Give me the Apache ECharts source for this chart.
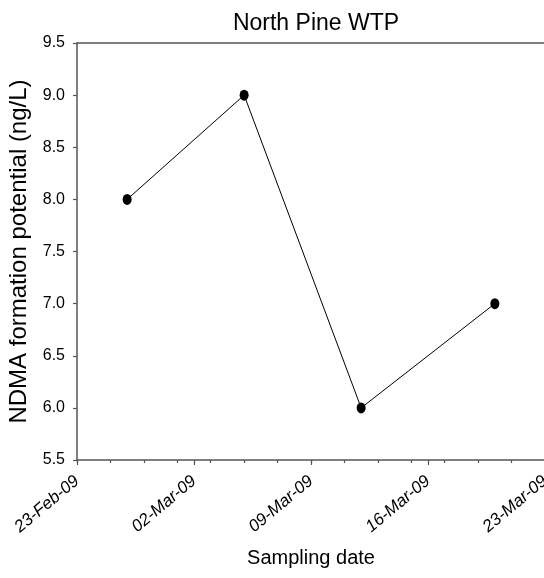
<!DOCTYPE html>
<html>
<head>
<meta charset="utf-8">
<script src="https://cdn.jsdelivr.net/npm/echarts@6/dist/echarts.min.js"></script>
<style>
html,body{margin:0;padding:0;background:#fff;}
#chart{width:544px;height:578px;}
</style>
</head>
<body>
<div id="chart"></div>
<script>
const titleText = 'North Pine WTP';
const xName = 'Sampling date';
const yName = 'NDMA formation potential (ng/L)';
const originDate = '2009-02-23';
const sampleDates = ['2009-02-26', '2009-03-05', '2009-03-12', '2009-03-20'];
const ndmaValues = [8.0, 9.0, 6.0, 7.0];
const xTickLabels = ['23-Feb-09', '02-Mar-09', '09-Mar-09', '16-Mar-09', '23-Mar-09'];

const DAY = 86400000;
const originMs = Date.parse(originDate);
const seriesData = sampleDates.map((d, i) => [(Date.parse(d) - originMs) / DAY, ndmaValues[i]]);
const spanDays = (xTickLabels.length - 1) * 7;

const axisColor = '#555';
const font = 'Liberation Sans, Arial, sans-serif';

const chart = echarts.init(document.getElementById('chart'), null, {renderer: 'canvas'});
chart.setOption({
  animation: false,
  backgroundColor: '#fff',
  title: {
    text: titleText,
    left: 311,
    textAlign: 'center',
    top: 7,
    textStyle: {fontFamily: font, fontSize: 23, fontWeight: 'normal', color: '#000'}
  },
  grid: {left: 77, right: -1, top: 43, bottom: 118, containLabel: false, outerBoundsMode: 'none'},
  xAxis: [
    {
      type: 'value', min: 0, max: spanDays, interval: 7, position: 'bottom',
      axisLine: {show: true, lineStyle: {color: axisColor, width: 1.5}},
      axisTick: {show: true, length: 5, lineStyle: {color: axisColor, width: 1.2}},
      axisLabel: {
        show: true, rotate: 40, margin: 19, fontFamily: font, fontSize: 17,
        fontStyle: 'italic', color: '#000',
        showMinLabel: true, showMaxLabel: true, hideOverlap: false,
        formatter: v => xTickLabels[Math.round(v / 7)]
      },
      splitLine: {show: false},
      name: xName, nameLocation: 'middle', nameGap: 88,
      nameTextStyle: {fontFamily: font, fontSize: 20, color: '#000'}
    },
    {
      type: 'value', min: 0, max: spanDays, interval: 2, position: 'bottom',
      axisLine: {show: false},
      axisTick: {show: true, length: 3, lineStyle: {color: axisColor, width: 1.2}},
      axisLabel: {show: false},
      splitLine: {show: false}
    },
    {
      type: 'value', min: 0, max: spanDays, interval: 7, position: 'top',
      axisLine: {show: true, lineStyle: {color: axisColor, width: 1.5}},
      axisTick: {show: false},
      axisLabel: {show: false},
      splitLine: {show: false}
    }
  ],
  yAxis: {
    type: 'value', min: 5.5, max: 9.5, interval: 0.5,
    axisLine: {show: true, lineStyle: {color: axisColor, width: 1.5}},
    axisTick: {show: true, length: 4, lineStyle: {color: axisColor, width: 1.2}},
    axisLabel: {
      margin: 12, fontFamily: font, fontSize: 16, color: '#000',
      formatter: v => v.toFixed(1)
    },
    splitLine: {show: false},
    name: yName, nameLocation: 'middle', nameGap: 46, nameRotate: 90,
    nameTextStyle: {fontFamily: font, fontSize: 24, color: '#000'}
  },
  series: [{
    type: 'line',
    xAxisIndex: 0,
    data: seriesData,
    symbol: 'circle',
    symbolSize: [9, 11],
    itemStyle: {color: '#000'},
    lineStyle: {color: '#000', width: 1},
    z: 5
  }]
});
</script>
</body>
</html>
